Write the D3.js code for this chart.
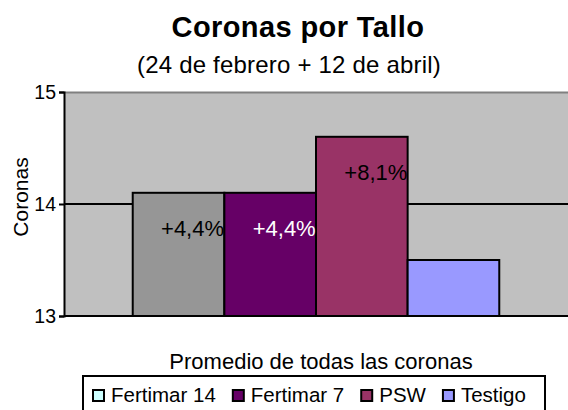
<!DOCTYPE html>
<html>
<head>
<meta charset="utf-8">
<script src="https://cdn.jsdelivr.net/npm/d3@7"></script>
<style>
  html, body { margin: 0; padding: 0; background: #fff; }
  svg { display: block; font-family: "Liberation Sans", Arial, sans-serif; }
</style>
</head>
<body>
<div id="chart"></div>
<script>
// data
const category = ["Promedio de todas las coronas"];
const series = ["Fertimar 14", "Fertimar 7", "PSW", "Testigo"];
const values = [14.1, 14.1, 14.6, 13.5];
const barLabels = ["+4,4%", "+4,4%", "+8,1%", ""];
const yTicks = [13, 14, 15];

const barColors = ["#969696", "#660066", "#993366", "#9999FF"];
const legendColors = ["#CCFFFF", "#660066", "#993366", "#9999FF"];
const labelColors = ["#000", "#fff", "#000", "#000"];

const width = 568, height = 410;
const plot = { left: 64, right: 568, top: 92, bottom: 316 };

const svg = d3.select("#chart").append("svg")
  .attr("width", width).attr("height", height);

const y = d3.scaleLinear().domain([13, 15]).range([plot.bottom, plot.top]);
const x0 = d3.scaleBand().domain(category).range([plot.left, plot.right])
  .paddingInner(0).paddingOuter(0.1875);
const x1 = d3.scaleBand().domain(series).range([0, x0.bandwidth()]);

// plot background
svg.append("rect")
  .attr("x", plot.left).attr("y", plot.top)
  .attr("width", plot.right - plot.left).attr("height", plot.bottom - plot.top)
  .attr("fill", "#C0C0C0");
svg.append("line")
  .attr("x1", plot.left).attr("x2", plot.right)
  .attr("y1", plot.top + 0.5).attr("y2", plot.top + 0.5)
  .attr("stroke", "#808080").attr("stroke-width", 2);

// gridlines
svg.append("g").selectAll("line").data(yTicks.filter((d) => d !== 13 && d !== 15)).join("line")
  .attr("x1", plot.left).attr("x2", plot.right)
  .attr("y1", (d) => y(d)).attr("y2", (d) => y(d))
  .attr("stroke", "#000").attr("stroke-width", 2);

// bars
const bars = svg.append("g").attr("transform", `translate(${x0(category[0])},0)`);
bars.selectAll("rect").data(values).join("rect")
  .attr("x", (d, i) => x1(series[i]))
  .attr("y", (d) => y(d))
  .attr("width", x1.bandwidth())
  .attr("height", (d) => y(13) - y(d))
  .attr("fill", (d, i) => barColors[i])
  .attr("stroke", "#000").attr("stroke-width", 2);

bars.selectAll("text").data(values).join("text")
  .attr("x", (d, i) => x1(series[i]) + x1.bandwidth() / 2 + 14)
  .attr("y", (d) => y(d) + 35)
  .attr("dy", "0.35em")
  .attr("text-anchor", "middle")
  .attr("font-size", 22)
  .attr("fill", (d, i) => labelColors[i])
  .text((d, i) => barLabels[i]);

// axes
const yAxis = svg.append("g")
  .attr("transform", `translate(${plot.left},0)`)
  .call(d3.axisLeft(y).tickValues(yTicks).tickSize(5).tickPadding(3).tickFormat(d3.format("d")));
yAxis.select(".domain").attr("stroke-width", 2);
yAxis.selectAll(".tick line").attr("stroke-width", 2);
yAxis.selectAll("text").attr("font-size", 19.5).attr("fill", "#000")
  .style("font-family", "'Liberation Sans', Arial, sans-serif");

svg.append("line")
  .attr("x1", plot.left).attr("x2", plot.right)
  .attr("y1", plot.bottom).attr("y2", plot.bottom)
  .attr("stroke", "#000").attr("stroke-width", 2);

// titles
svg.append("text")
  .attr("x", 298).attr("y", 37)
  .attr("text-anchor", "middle")
  .attr("font-size", 29).attr("font-weight", "bold")
  .attr("letter-spacing", 0.4)
  .text("Coronas por Tallo");
svg.append("text")
  .attr("x", 289).attr("y", 73)
  .attr("text-anchor", "middle")
  .attr("font-size", 24)
  .attr("letter-spacing", 0.2)
  .text("(24 de febrero + 12 de abril)");

svg.append("text")
  .attr("transform", "translate(28,197) rotate(-90)")
  .attr("text-anchor", "middle")
  .attr("font-size", 21)
  .text("Coronas");

svg.append("text")
  .attr("x", 321).attr("y", 369)
  .attr("text-anchor", "middle")
  .attr("font-size", 22)
  .text(category[0]);

// legend
const legend = svg.append("g");
legend.append("rect")
  .attr("x", 83).attr("y", 376)
  .attr("width", 462).attr("height", 50)
  .attr("fill", "#fff").attr("stroke", "#000").attr("stroke-width", 2);

let lx = 92;
series.forEach((s, i) => {
  const item = legend.append("g");
  item.append("rect")
    .attr("x", lx + 1).attr("y", 390)
    .attr("width", 11).attr("height", 11)
    .attr("fill", legendColors[i])
    .attr("stroke", "#000").attr("stroke-width", 2);
  const t = item.append("text")
    .attr("x", lx + 19).attr("y", 402)
    .attr("font-size", 20.5)
    .text(s);
  lx += 19 + t.node().getComputedTextLength() + 16;
});
</script>
</body>
</html>
